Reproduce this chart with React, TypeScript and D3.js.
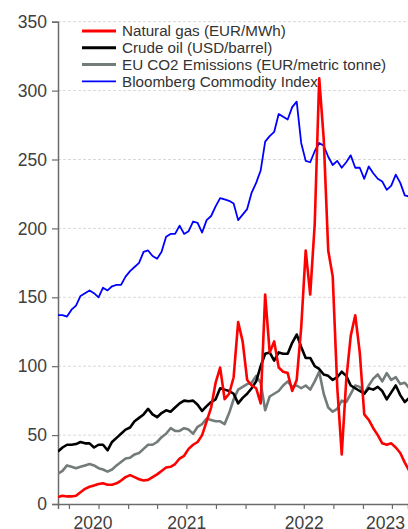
import React, { useEffect, useRef } from 'react';
import * as d3 from 'd3';

// fortnightly observations, starting end of May 2020
const startDate = new Date(2020, 4, 28);

const gas = [5, 6, 5.5, 5.5, 6, 8.5, 11, 12.5, 13.5, 14.5,
  15, 14, 14, 15, 17, 19.5, 21, 19.5, 18, 17,
  17.5, 19.5, 21.5, 24, 26.5, 27, 29, 33, 35, 40,
  43, 45, 50, 60, 70, 88, 99, 76, 80, 92,
  132, 118, 90, 86, 84, 73, 152, 110, 118, 99,
  96, 95, 82, 90, 128, 184, 152, 203, 309, 265,
  184, 165, 85, 36, 90, 122, 137, 110, 65, 61,
  55, 50, 44, 43, 44, 41, 37, 30, 24];

const crude = [38, 41, 43, 43, 43.5, 45, 44, 44, 41, 43,
  43, 39, 45, 48, 51, 54, 55.5, 60, 62.5, 65,
  69, 65, 63, 66, 68, 67, 70, 73, 75, 74.5,
  75, 72, 67.5, 71, 74, 76, 84, 83, 82, 80,
  73, 77, 80, 84, 89, 100, 109, 110, 104, 110,
  109, 109, 117, 123, 114, 106, 106, 100, 98, 94,
  93, 90, 92, 96, 93, 86, 84, 82, 80, 84,
  83, 85, 82, 76, 81, 86, 79, 74, 77];

const co2 = [22, 24, 28, 27, 26, 27, 28, 29, 28, 26,
  25, 23.5, 25, 28, 30.5, 33, 33.5, 36, 37, 40,
  43, 43, 45, 48.5, 51, 55, 53, 53, 55, 54,
  51, 56, 58, 62, 61, 60, 60, 58, 66, 76,
  83, 85, 87, 88, 93, 88, 68, 78, 80, 82,
  86, 89, 85, 86, 84, 86, 83, 89, 96, 80,
  70, 67, 69, 75, 74, 80, 86, 85, 80, 86,
  91, 94, 89, 95, 90, 92, 87, 88, 84];

const bcom = [137, 137, 136, 141, 144, 151, 153, 155, 153, 150,
  157, 155, 158, 159, 159, 165, 169, 172, 175, 183,
  184, 180, 178, 183, 194, 196, 196, 202, 196, 198,
  205, 204, 197, 206, 209, 216, 222, 221, 220, 218,
  206, 210, 214, 226, 233, 242, 263, 267, 270, 283,
  281, 279, 288, 292, 262, 249, 248, 256, 262, 260,
  252, 246, 249, 244, 248, 253, 244, 244, 236, 245,
  240, 236, 234, 228, 231, 239, 233, 224, 223];

const seriesNames = [
  'Natural gas (EUR/MWh)',
  'Crude oil (USD/barrel)',
  'EU CO2 Emissions (EUR/metric tonne)',
  'Bloomberg Commodity Index',
];
const seriesColors = ['#ff0000', '#000000', '#737b7b', '#0000ff'];
const seriesWidths = [2.6, 2.6, 2.6, 1.8];

const yTicks = [0, 50, 100, 150, 200, 250, 300, 350];
const yearLabels = ['2020', '2021', '2022', '2023'];

const App = () => {
  const ref = useRef(null);

  useEffect(() => {
    const svg = d3.select(ref.current);
    svg.selectAll('*').remove();

    const left = 58, right = 408, top = 21.7, bottom = 504;
    const font = '"Liberation Sans", Arial, sans-serif';
    const txt = '#404040';

    const dates = gas.map((_, i) => d3.timeDay.offset(startDate, 14 * i));
    const x = d3.scaleTime()
      .domain([new Date(2020, 4, 28), new Date(2023, 4, 21)])
      .range([left, right]);
    const y = d3.scaleLinear().domain([0, 350]).range([bottom, top]);

    // grid
    svg.append('g')
      .selectAll('line')
      .data(yTicks.filter(d => d > 0))
      .enter()
      .append('line')
      .attr('x1', left)
      .attr('x2', right)
      .attr('y1', d => y(d))
      .attr('y2', d => y(d))
      .attr('stroke', '#d9d9d9')
      .attr('stroke-dasharray', '3,2')
      .attr('stroke-width', 1);

    // y axis
    const yAxis = svg.append('g')
      .attr('transform', `translate(${left},0)`)
      .call(d3.axisLeft(y).tickValues(yTicks).tickSize(6).tickPadding(5));
    yAxis.select('.domain').attr('stroke', '#6b6b6b').attr('stroke-width', 1.5);
    yAxis.selectAll('.tick line').attr('stroke', '#6b6b6b').attr('stroke-width', 1.2);
    yAxis.selectAll('text')
      .attr('fill', txt)
      .style('font-family', font)
      .style('font-size', '17.5px');

    // x axis
    const [d0, d1] = x.domain();
    const quarterTicks = d3.timeMonth.every(3).range(d0, d1);
    const xAxis = svg.append('g')
      .attr('transform', `translate(0,${bottom})`)
      .call(d3.axisBottom(x).tickValues(quarterTicks).tickSize(5).tickFormat(() => ''));
    xAxis.select('.domain').attr('stroke', '#6b6b6b').attr('stroke-width', 1.5);
    xAxis.selectAll('.tick line').attr('stroke', '#6b6b6b').attr('stroke-width', 1.2);

    // year labels centred in the visible part of each year
    svg.append('g')
      .selectAll('text')
      .data(yearLabels)
      .enter()
      .append('text')
      .attr('x', d => {
        const yr = +d;
        const a = Math.max(+d0, +new Date(yr, 0, 1));
        const b = Math.min(+d1, +new Date(yr + 1, 0, 1));
        return (x(new Date(a)) + x(new Date(b))) / 2;
      })
      .attr('y', 529)
      .attr('text-anchor', 'middle')
      .attr('fill', txt)
      .style('font-family', font)
      .style('font-size', '17.5px')
      .text(d => d);

    // lines
    svg.append('clipPath').attr('id', 'plot-clip')
      .append('rect')
      .attr('x', left)
      .attr('y', 0)
      .attr('width', right - left)
      .attr('height', bottom);

    const line = d3.line()
      .x((d, i) => x(dates[i]))
      .y(d => y(d));

    const all = [gas, crude, co2, bcom];
    const order = [3, 2, 1, 0];
    const plot = svg.append('g').attr('clip-path', 'url(#plot-clip)');
    order.forEach(k => {
      plot.append('path')
        .datum(all[k])
        .attr('d', line)
        .attr('fill', 'none')
        .attr('stroke', seriesColors[k])
        .attr('stroke-width', seriesWidths[k])
        .attr('stroke-linejoin', 'round');
    });

    // legend
    const legend = svg.append('g').attr('transform', 'translate(82,31)');
    seriesNames.forEach((name, i) => {
      const g = legend.append('g').attr('transform', `translate(0,${i * 16.8})`);
      g.append('line')
        .attr('x1', 0)
        .attr('x2', 34)
        .attr('stroke', seriesColors[i])
        .attr('stroke-width', i === 3 ? 1.8 : 3);
      g.append('text')
        .attr('x', 40)
        .attr('dy', '0.35em')
        .attr('fill', '#333333')
        .style('font-family', font)
        .style('font-size', '15.2px')
        .text(name);
    });
  }, []);

  return (
    <svg
      ref={ref}
      width={408}
      height={529}
      style={{ position: 'absolute', left: 0, top: 0, background: '#fff' }}
    />
  );
};

export default App;
